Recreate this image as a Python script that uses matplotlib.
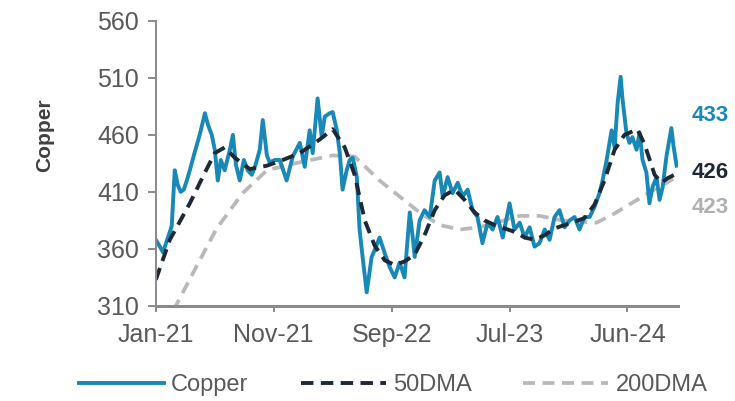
import matplotlib
matplotlib.use("Agg")
import matplotlib.pyplot as plt

plt.rcParams['font.family'] = ['Liberation Sans', 'DejaVu Sans']

# weekly index from Jan-21
copper_wk = [0, 1.5, 2.6, 4.4, 5.8, 6.9, 8.0, 9.1, 10.2, 11.3, 12.4, 14.2, 16.0, 17.9, 19.0,
             20.4, 21.5, 22.6, 23.7, 25.1, 27.0, 28.1, 29.2, 30.6, 32.1, 33.5, 35.0, 36.4,
             37.9, 39.0, 40.5, 41.5, 43.4, 45.2, 47.7, 49.9, 52.5, 54.3, 56.1, 57.2, 59.0,
             60.5, 61.6, 63.4, 64.5, 66.0, 67.1, 68.1, 69.6, 70.7, 71.8, 73.3, 74.3, 75.4,
             76.9, 78.7, 79.8, 81.6, 83.5, 85.3, 87.1, 88.9, 90.7, 92.6, 93.7, 94.4, 96.2,
             98.0, 99.9, 101.7, 103.5, 104.6, 106.4, 108.2, 110.1, 111.9, 113.7, 115.5,
             117.3, 119.1, 121.0, 122.8, 124.6, 126.5, 129.0, 130.8, 132.7, 134.5, 136.3,
             138.1, 139.9, 141.8, 143.6, 145.4, 147.2, 149.1, 150.9, 152.7, 154.5, 156.3,
             158.2, 160.0, 161.8, 162.9, 164.4, 166.2, 167.3, 168.4, 169.5, 170.2, 171.6,
             172.7, 173.8, 175.3, 176.4, 177.5, 178.9, 180.0, 181.1, 182.6, 183.7, 184.8,
             186.2, 188.0, 188.8, 189.9]
copper = [368, 362, 357, 370, 380, 429, 416, 410, 412, 420, 429, 445, 460, 479, 469,
          460, 447, 420, 438, 429, 447, 460, 434, 420, 438, 429, 425, 434,
          447, 473, 442, 436, 438, 438, 420, 441, 453, 432, 464, 444, 492,
          458, 476, 479, 480, 464, 444, 412, 429, 438, 440, 423, 377, 353,
          322, 353, 359, 370, 356, 344, 335, 348, 335, 392, 370, 353, 385,
          394, 388, 420, 427, 406, 423, 409, 418, 406, 412, 394,
          388, 365, 383, 377, 388, 370, 400, 377, 383, 370, 379,
          362, 365, 377, 368, 388, 394, 379, 385, 388, 377, 388,
          388, 397, 409, 420, 438, 464, 449, 488, 511, 491, 462,
          453, 458, 447, 462, 438, 427, 400, 414, 423, 403, 414,
          441, 466, 450, 433]

dma50_wk = [0, 5.1, 12.4, 17.9, 21.5, 25.1, 28.8, 34.3, 40.5, 46.3, 52.5, 59.8, 64.5,
            68.9, 72.5, 76.2, 79.8, 83.5, 87.1, 90.7, 94.4, 98.0, 101.7, 105.3, 109.0,
            112.6, 116.3, 119.9, 123.5, 127.2, 130.8, 134.5, 138.1, 141.8, 145.4, 149.1,
            152.7, 156.3, 160.0, 163.6, 167.3, 170.9, 175.6, 178.2, 181.9, 184.4, 186.6,
            189.9]
dma50 = [333, 368, 400, 427, 444, 449, 440, 430, 433, 438, 444, 456, 465,
         449, 425, 385, 363, 350, 346, 349, 355, 372, 394, 407, 412,
         403, 392, 385, 381, 378, 375, 370, 368, 372, 378, 381,
         384, 387, 399, 420, 447, 460, 465, 452, 425, 418, 422,
         426]

dma200_wk = [6.5, 7.7, 16.0, 22.2, 31.7, 40.5, 52.5, 64.5, 72.5, 81.6, 88.9, 96.2,
             103.5, 110.8, 118.1, 125.4, 132.7, 139.9, 148.3, 160.7, 166.5, 172.7,
             178.9, 184.8, 189.9]
dma200 = [306, 312, 350, 378, 409, 429, 436, 442, 441, 420, 406, 392,
          381, 377, 379, 384, 389, 389, 385, 383, 390, 399,
          408, 416, 423]

tick_wk = [0, 43, 86, 129, 172]
tick_labels = ['Jan-21', 'Nov-21', 'Sep-22', 'Jul-23', 'Jun-24']
y_ticks = [310, 360, 410, 460, 510, 560]

c_copper = '#1888b6'
c_50 = '#1e2936'
c_200 = '#b9b9b9'
c_text = '#595959'

fig = plt.figure(figsize=(7.35, 4.01), dpi=100)
ax = fig.add_axes([0.212, 0.237, 0.71, 0.711])

ax.plot(dma200_wk, dma200, color=c_200, lw=2.7, dashes=(3.2, 2.0), label='200DMA')
ax.plot(copper_wk, copper, color=c_copper, lw=2.8, label='Copper')
ax.plot(dma50_wk, dma50, color=c_50, lw=2.8, dashes=(3.2, 1.9), label='50DMA')

ax.set_xlim(0, 190.3)
ax.set_ylim(310, 560)
ax.set_yticks(y_ticks)
ax.set_xticks(tick_wk)
ax.set_xticklabels(tick_labels)

for s in ['top', 'right']:
    ax.spines[s].set_visible(False)
ax.spines['left'].set_color('#8a8a8a')
ax.spines['left'].set_linewidth(1.4)
ax.spines['bottom'].set_color('#8a8a8a')
ax.spines['bottom'].set_linewidth(2.2)
ax.tick_params(axis='y', direction='out', length=6, width=1.4, color='#8a8a8a',
               labelsize=18, labelcolor=c_text, pad=6)
ax.tick_params(axis='x', direction='out', length=4, width=1.4, color='#8a8a8a',
               labelsize=18, labelcolor=c_text, pad=8)
ax.set_ylabel('Copper', fontsize=15, fontweight='bold', color='#404040')
ax.yaxis.set_label_coords(-0.195, 0.6)

# end-of-series value labels
ends = [(copper_wk[-1], copper[-1], c_copper, 36),
        (dma50_wk[-1], dma50[-1], c_50, 1),
        (dma200_wk[-1], dma200[-1], '#b0b0b0', -22)]
for xw, val, col, dy in ends:
    ax.annotate(f'{val:.0f}', xy=(xw, val), xytext=(11, dy), textcoords='offset points',
                ha='left', va='center', fontsize=16, fontweight='bold', color=col,
                annotation_clip=False)

handles, labels = ax.get_legend_handles_labels()
order = [1, 2, 0]
fig.legend([handles[i] for i in order], [labels[i] for i in order],
           loc='center', bbox_to_anchor=(0.535, 0.04), ncol=3, frameon=False,
           fontsize=17, handlelength=3.6, columnspacing=2.2, handletextpad=0.3,
           labelcolor=c_text)

fig.savefig('out.png', dpi=100)
